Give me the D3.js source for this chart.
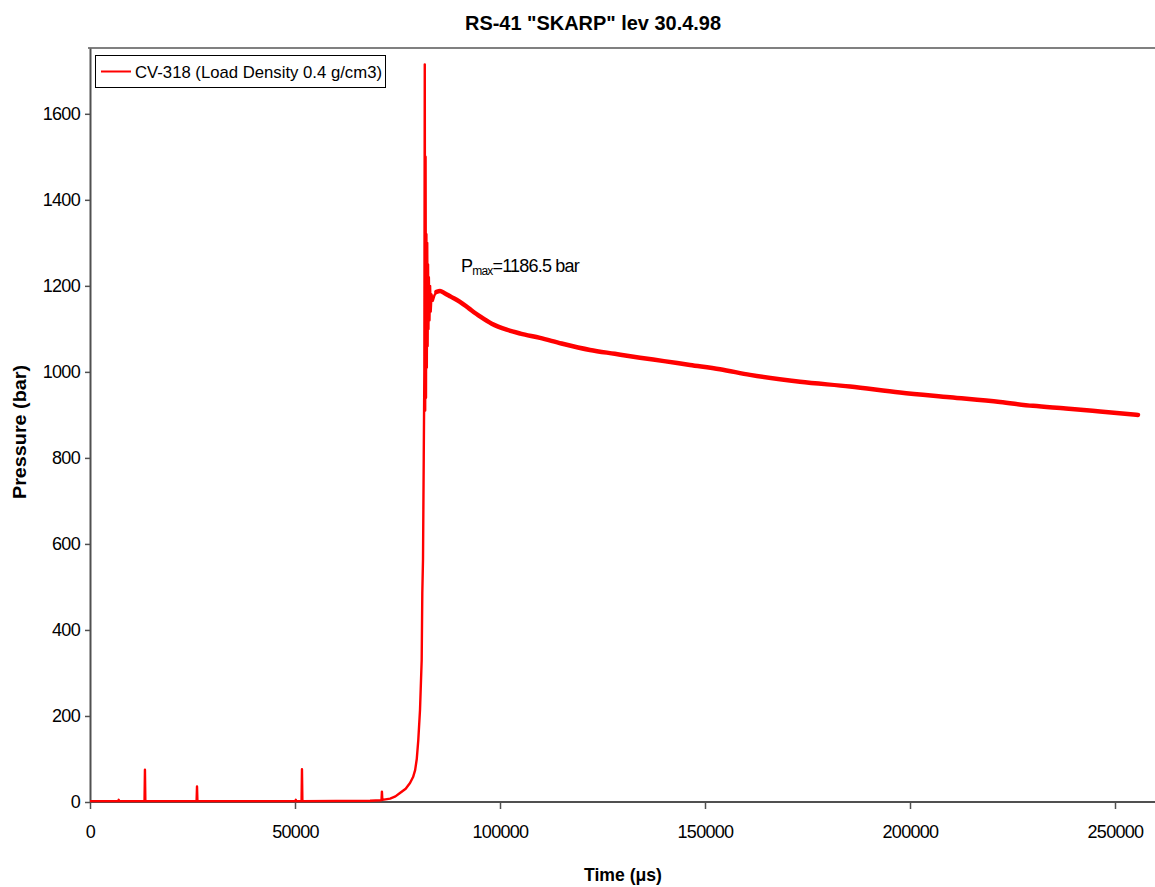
<!DOCTYPE html>
<html>
<head>
<meta charset="utf-8">
<script src="https://cdn.jsdelivr.net/npm/d3@7"></script>
<style>
  html, body { margin: 0; padding: 0; background: #fff; }
  svg { display: block; font-family: "Liberation Sans", Arial, sans-serif; }
</style>
</head>
<body>
<svg id="chart" width="1155" height="887"></svg>
<script>
// ---- data ----
const chartTitle = 'RS-41 "SKARP" lev 30.4.98';
const seriesName = "CV-318 (Load Density 0.4 g/cm3)";
const xTicks = [0, 50000, 100000, 150000, 200000, 250000];
const yTicks = [0, 200, 400, 600, 800, 1000, 1200, 1400, 1600];

const timeUs = [0, 6900, 7000, 7100, 13300, 13400, 13500, 26000, 26100, 26200,
  50100, 50200, 50300, 51600, 51700, 51800, 68300, 71100, 71200, 71300,
  73200, 74500, 75600, 77000, 78050, 78800, 79300, 79700, 80070, 80490, 80900, 81050, 81220, 81400,
  81550, 81650, 81750, 81850, 81950, 82050, 82150, 82250, 82350, 82450,
  82550, 82650, 82800, 82950, 83100, 83300, 83600, 84000, 84500, 85370,
  86500, 88000, 90240, 92500, 95120, 98000, 101630, 105000, 109760, 115000,
  121950, 128000, 134150, 140000, 146340, 153660, 160980, 173170, 185370, 197560,
  209760, 221950, 230000, 238000, 246340, 255610];

const pressureBar = [2, 2, 5, 2, 2, 75, 2, 2, 36, 2,
  2, 5, 2, 2, 76, 2, 3, 4, 24, 5,
  8, 13, 21, 31, 44, 58, 74, 100, 144, 214, 330, 486, 563, 800,
  1000, 1715, 910, 1500, 940, 1320, 1010, 1300, 1060, 1250,
  1100, 1220, 1120, 1200, 1140, 1180, 1165, 1178, 1186, 1188,
  1183, 1175, 1163, 1147, 1129, 1112, 1098, 1089, 1079, 1066,
  1051, 1042, 1033, 1025, 1016, 1006, 993, 977, 966, 952,
  941, 930, 921, 915, 908, 900];

const annotationText = { main: "P", sub: "max", rest: "=1186.5 bar" };
const xLabel = "Time (\u03bcs)";
const yLabel = "Pressure (bar)";

// ---- drawing ----
const svg = d3.select("#chart");
const plotLeft = 90, plotRight = 1156, plotTop = 48, plotBottom = 802;

const x = d3.scaleLinear().domain([0, 260000]).range([plotLeft, plotRight]);
const y = d3.scaleLinear().domain([0, 1753]).range([plotBottom, plotTop]);

const data = timeUs.map((t, i) => ({ t, p: pressureBar[i] }));

// plot area frame (top)
svg.append("line")
  .attr("x1", plotLeft - 2).attr("x2", 1155).attr("y1", plotTop).attr("y2", plotTop)
  .attr("stroke", "#808080").attr("stroke-width", 2);

// axes
const xAxis = svg.append("g").attr("transform", `translate(0,${plotBottom})`)
  .call(d3.axisBottom(x).tickValues(xTicks).tickSize(7).tickSizeOuter(0).tickPadding(16)
    .tickFormat(d3.format("d")));
const yAxis = svg.append("g").attr("transform", `translate(${plotLeft},0)`)
  .call(d3.axisLeft(y).tickValues(yTicks).tickSize(5).tickSizeOuter(0).tickPadding(5)
    .tickFormat(d3.format("d")));

[xAxis, yAxis].forEach(g => {
  g.select(".domain").attr("stroke", "#505050").attr("stroke-width", 2);
  g.selectAll(".tick line").attr("stroke", "#505050").attr("stroke-width", 1.5);
  g.selectAll(".tick text")
    .attr("fill", "#000")
    .style("font-family", '"Liberation Sans", Arial, sans-serif')
    .style("font-size", "18px")
    .style("letter-spacing", "-0.7px");
});
xAxis.select(".domain").attr("d", `M${plotLeft},0H1155`);

// series line
const line = d3.line().x(d => x(d.t)).y(d => y(d.p));
const smoothLine = d3.line().x(d => x(d.t)).y(d => y(d.p)).curve(d3.curveMonotoneX);
svg.append("path")
  .datum(data.filter(d => d.t <= 85370))
  .attr("d", line)
  .attr("fill", "none")
  .attr("stroke", "#ff0000")
  .attr("stroke-width", 2.4)
  .attr("stroke-linejoin", "round");
// the noisy decaying part renders as a wider band
svg.append("path")
  .datum(data.filter(d => d.t >= 84500))
  .attr("d", smoothLine)
  .attr("fill", "none")
  .attr("stroke", "#ff0000")
  .attr("stroke-width", 4.5)
  .attr("stroke-linejoin", "round")
  .attr("stroke-linecap", "round");

// title
svg.append("text")
  .attr("x", 593).attr("y", 30)
  .attr("text-anchor", "middle")
  .attr("font-weight", "bold").attr("font-size", 20)
  .attr("textLength", 256).attr("lengthAdjust", "spacingAndGlyphs")
  .text(chartTitle);

// axis titles
svg.append("text")
  .attr("x", 623).attr("y", 881)
  .attr("text-anchor", "middle")
  .attr("font-weight", "bold").attr("font-size", 19)
  .attr("textLength", 78).attr("lengthAdjust", "spacingAndGlyphs")
  .text(xLabel);
svg.append("text")
  .attr("transform", "translate(26,432) rotate(-90)")
  .attr("text-anchor", "middle")
  .attr("font-weight", "bold").attr("font-size", 19)
  .attr("textLength", 134).attr("lengthAdjust", "spacingAndGlyphs")
  .text(yLabel);

// legend
const lg = svg.append("g");
lg.append("rect")
  .attr("x", 95.5).attr("y", 55.5).attr("width", 290).attr("height", 32)
  .attr("fill", "#fff").attr("stroke", "#000").attr("stroke-width", 1);
lg.append("line")
  .attr("x1", 101).attr("x2", 131).attr("y1", 71.5).attr("y2", 71.5)
  .attr("stroke", "#ff0000").attr("stroke-width", 2);
lg.append("text")
  .attr("x", 135).attr("y", 77.5)
  .attr("font-size", 17)
  .attr("textLength", 247).attr("lengthAdjust", "spacingAndGlyphs")
  .text(seriesName);

// annotation
const ann = svg.append("text").attr("x", 461).attr("y", 272).attr("font-size", 18)
  .style("letter-spacing", "-0.8px");
ann.append("tspan").text(annotationText.main);
ann.append("tspan").attr("font-size", 12).attr("dy", 3).text(annotationText.sub);
ann.append("tspan").attr("dy", -3).text(annotationText.rest);
</script>
</body>
</html>
